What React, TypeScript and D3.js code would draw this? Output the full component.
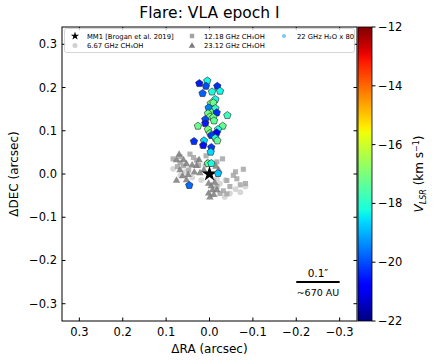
import React from "react"
import * as d3 from "d3"

// --- data (arcsec offsets, velocities in km/s) ---
const h2oRA = [0.0235, 0.005, 0.0082, -0.018, -0.0058, 0.016, -0.0243, -0.0135, -0.0027, -0.0089, 0.002, -0.0135, -0.0042, -0.0166, 0.0035, -0.0412, -0.0012, -0.0089, 0.0097, 0.0097, -0.0104, 0.0266, -0.0304, 0.0035, -0.0197, -0.0012, -0.0166, -0.0042, -0.0135, -0.018, 0.0127, 0.0358, 0.0143, -0.0042, -0.0027, 0.0035, -0.0042, -0.0197, 0.0466]
const h2oDEC = [0.2094, 0.2155, 0.2032, 0.2032, 0.19, 0.1863, 0.1917, 0.1725, 0.163, 0.1648, 0.1532, 0.1517, 0.1417, 0.1417, 0.1401, 0.1355, 0.1324, 0.1309, 0.1263, 0.117, 0.1232, 0.1109, 0.1109, 0.1032, 0.1032, 0.094, 0.0955, 0.0893, 0.0831, 0.077, 0.077, 0.0755, 0.0662, 0.0616, 0.0508, 0.0246, 0.0246, 0.0015, -0.0262]
const h2oVel = [-20.5, -18.3, -20.0, -20.3, -18.2, -19.8, -18.3, -18.3, -17.0, -17.2, -19.5, -18.0, -17.0, -20.3, -17.2, -17.8, -17.0, -17.2, -20.0, -20.5, -17.3, -17.2, -17.3, -17.0, -18.1, -17.2, -20.8, -20.2, -18.2, -17.3, -18.6, -20.3, -20.6, -20.2, -18.6, -17.3, -18.2, -18.8, -19.7]

const m12RA = [0.084, 0.068, 0.045, 0.037, 0.030, 0.017, 0.074, 0.060, 0.048, 0.068, 0.025, -0.030, -0.017, -0.078, -0.055, -0.063, -0.071, -0.083, -0.047, -0.032, -0.024, -0.040, -0.017, 0.008, -0.060, -0.040]
const m12DEC = [0.035, 0.040, 0.046, 0.038, 0.032, 0.065, 0.017, 0.019, 0.009, 0.026, 0.020, 0.035, 0.028, 0.011, -0.003, -0.011, -0.025, -0.022, -0.029, -0.039, -0.045, -0.046, -0.029, 0.042, 0.005, -0.015]

const m23RA = [0.076, 0.060, 0.053, 0.040, 0.030, 0.024, 0.068, 0.049, 0.076, 0.053, 0.022, 0.013, -0.015, -0.021, 0.002, -0.004, -0.007, 0.002, -0.010, -0.017, -0.001, 0.070, 0.006, -0.012, 0.035, 0.062]
const m23DEC = [0.032, 0.032, 0.023, 0.020, 0.019, 0.032, 0.009, -0.002, -0.015, -0.014, 0.002, 0.009, 0.017, 0.009, -0.022, -0.028, -0.037, -0.045, -0.048, -0.037, -0.054, 0.045, 0.025, -0.020, 0.004, -0.005]

const m667RA = [0.084, 0.067, 0.040, 0.019, -0.037, -0.047, -0.071, -0.083, -0.024, 0.010, -0.017, 0.055, -0.060, -0.035]
const m667DEC = [0.012, -0.003, -0.008, -0.014, -0.014, -0.045, -0.042, -0.029, -0.022, 0.020, -0.011, 0.005, -0.035, -0.053]

const axisTicks = [0.3, 0.2, 0.1, 0.0, -0.1, -0.2, -0.3]
const cbTicks = [-12, -14, -16, -18, -20, -22]

const W = 436, H = 364
const L = 62, T = 27, R = 357, B = 321
const font = "DejaVu Sans, sans-serif"

// matplotlib jet
const jr = d3.scaleLinear([0, 0.35, 0.66, 0.89, 1], [0, 0, 1, 1, 0.5]).clamp(true)
const jg = d3.scaleLinear([0, 0.125, 0.375, 0.64, 0.91, 1], [0, 0, 1, 1, 0, 0]).clamp(true)
const jb = d3.scaleLinear([0, 0.11, 0.34, 0.65, 1], [0.5, 1, 1, 0, 0]).clamp(true)
const jet = (t: number) => d3.rgb(jr(t) * 255, jg(t) * 255, jb(t) * 255).formatHex()

const pentagon = (r: number) => {
  const pts = d3.range(5).map(k => {
    const a = -Math.PI / 2 + (k * 2 * Math.PI) / 5
    return [r * Math.cos(a), r * Math.sin(a)]
  })
  return "M" + pts.map(p => p.join(",")).join("L") + "Z"
}

const star = d3.symbol(d3.symbolStar, 75)()
const square = d3.symbol(d3.symbolSquare, 26)()
const triangle = d3.symbol(d3.symbolTriangle, 24)()
const circle = d3.symbol(d3.symbolCircle, 26)()
const lsquare = d3.symbol(d3.symbolSquare, 20)()
const ltriangle = d3.symbol(d3.symbolTriangle, 18)()
const lcircle = d3.symbol(d3.symbolCircle, 20)()

const C667 = "#d0d0d0", C12 = "#a4a4a4", C23 = "#7c7c7c"

export default function App() {
  const x = d3.scaleLinear().domain([0.34, -0.34]).range([L, R])
  const y = d3.scaleLinear().domain([0.34, -0.34]).range([T, B])
  const vel = d3.scaleLinear().domain([-22, -12]).range([0, 1])
  const cbY = d3.scaleLinear().domain([-22, -12]).range([B, T])
  const fmt = d3.format(".1f")
  const cbFmt = d3.format("d")
  const cbX0 = 358, cbX1 = 372

  const stops = d3.range(0, 1.0001, 0.02)

  return (
    <svg width={W} height={H} style={{ position: "absolute", left: 0, top: 0 }} fontFamily={font}>
      <defs>
        <linearGradient id="jetg" x1="0" y1="1" x2="0" y2="0">
          {stops.map(s => <stop key={s} offset={s} stopColor={jet(s)} />)}
        </linearGradient>
        <clipPath id="plotclip"><rect x={L} y={T} width={R - L} height={B - T} /></clipPath>
      </defs>
      <rect width={W} height={H} fill="white" />

      <text x={(L + R) / 2} y={18} textAnchor="middle" fontSize={15.5}>Flare: VLA epoch I</text>

      <g clipPath="url(#plotclip)">
        {m667RA.map((d, i) => (
          <path key={"c" + i} d={circle!} transform={`translate(${x(d)},${y(m667DEC[i])})`} fill={C667} opacity={0.85} />
        ))}
        {m12RA.map((d, i) => (
          <path key={"s" + i} d={square!} transform={`translate(${x(d)},${y(m12DEC[i])})`} fill={C12} opacity={0.85} />
        ))}
        {m23RA.map((d, i) => (
          <path key={"t" + i} d={triangle!} transform={`translate(${x(d)},${y(m23DEC[i])})`} fill={C23} opacity={0.85} />
        ))}
        <path d={star!} transform={`translate(${x(0)},${y(0)})`} fill="black" />
        {h2oRA.map((d, i) => (
          <path key={"w" + i} d={pentagon(3.9)} transform={`translate(${x(d)},${y(h2oDEC[i])})`}
            fill={jet(vel(h2oVel[i]))} stroke="#222" strokeWidth={0.6} />
        ))}
      </g>

      {/* frame + inward ticks */}
      <rect x={L} y={T} width={R - L} height={B - T} fill="none" stroke="black" strokeWidth={1} />
      {axisTicks.map(t => (
        <g key={"xt" + t}>
          <line x1={x(t)} x2={x(t)} y1={B} y2={B - 3.5} stroke="black" />
          <line x1={x(t)} x2={x(t)} y1={T} y2={T + 3.5} stroke="black" />
          <text x={x(t)} y={336} textAnchor="middle" fontSize={11.5}>{fmt(t)}</text>
          <line x1={L} x2={L + 3.5} y1={y(t)} y2={y(t)} stroke="black" />
          <line x1={R} x2={R - 3.5} y1={y(t)} y2={y(t)} stroke="black" />
          <text x={57} y={y(t) + 4} textAnchor="end" fontSize={11.5}>{fmt(t)}</text>
        </g>
      ))}
      <text x={(L + R) / 2} y={353} textAnchor="middle" fontSize={12}>ΔRA (arcsec)</text>
      <text transform={`translate(18,${(T + B) / 2}) rotate(-90)`} textAnchor="middle" fontSize={12}>ΔDEC (arcsec)</text>

      {/* scale bar */}
      <line x1={x(-0.2)} x2={x(-0.3)} y1={282} y2={282} stroke="black" strokeWidth={2} />
      <text x={x(-0.25)} y={277} textAnchor="middle" fontSize={10.5}>0.1″</text>
      <text x={x(-0.25)} y={296} textAnchor="middle" fontSize={9.5}>~670 AU</text>

      {/* legend */}
      <rect x={64.5} y={28.5} width={290} height={24} rx={2} fill="white" fillOpacity={0.8} stroke="#cccccc" strokeWidth={0.8} />
      <g fontSize={6.8}>
        <path d={d3.symbol(d3.symbolStar, 22)()!} transform="translate(75,36)" fill="black" />
        <text x={87} y={38.5}>MM1 [Brogan et al. 2019]</text>
        <path d={lcircle!} transform="translate(75,45.5)" fill={C667} />
        <text x={87} y={48}>6.67 GHz CH₃OH</text>
        <path d={lsquare!} transform="translate(192,36)" fill={C12} />
        <text x={204} y={38.5}>12.18 GHz CH₃OH</text>
        <path d={ltriangle!} transform="translate(192,46)" fill={C23} />
        <text x={204} y={48}>23.12 GHz CH₃OH</text>
        <path d={d3.symbol(d3.symbolCircle, 14)()!} transform="translate(284,36)" fill="#7ec8e8" />
        <text x={297} y={38.5}>22 GHz H₂O x 80</text>
      </g>

      {/* colorbar */}
      <rect x={cbX0} y={T} width={cbX1 - cbX0} height={B - T} fill="url(#jetg)" stroke="black" strokeWidth={0.8} />
      {cbTicks.map(t => (
        <g key={"cb" + t}>
          <line x1={cbX1} x2={cbX1 + 3.5} y1={cbY(t)} y2={cbY(t)} stroke="black" />
          <text x={cbX1 + 6} y={cbY(t) + 4} fontSize={11.5}>{cbFmt(t)}</text>
        </g>
      ))}
      <text transform={`translate(423,${(T + B) / 2}) rotate(-90)`} textAnchor="middle" fontSize={12}>
        <tspan fontStyle="italic">V</tspan>
        <tspan fontStyle="italic" fontSize={8} dy={2.5}>LSR</tspan>
        <tspan dy={-2.5}> (km s</tspan>
        <tspan fontSize={8} dy={-4.5}>−1</tspan>
        <tspan dy={4.5}>)</tspan>
      </text>
    </svg>
  )
}
